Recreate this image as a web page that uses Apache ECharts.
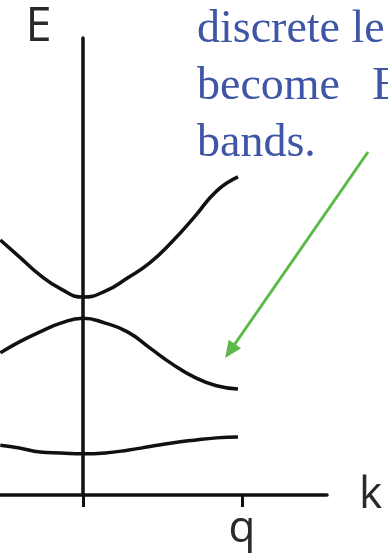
<!DOCTYPE html>
<html>
<head>
<meta charset="utf-8">
<script src="https://cdn.jsdelivr.net/npm/echarts@6/dist/echarts.min.js"></script>
<style>
  html, body { margin: 0; padding: 0; background: #fff; }
  #chart { width: 388px; height: 554px; }
</style>
</head>
<body>
<div id="chart"></div>
<script>
// k in units of q (zone edge), E in arbitrary units
const kValues = [-0.52, -0.4, -0.27, -0.14, 0, 0.14, 0.28, 0.42, 0.56, 0.7, 0.84, 0.975]
const upperBand = [5.58, 5.21, 4.81, 4.51, 4.33, 4.46, 4.75, 5.08, 5.54, 6.08, 6.65, 6.96]
const middleBand = [3.11, 3.35, 3.57, 3.76, 3.87, 3.76, 3.57, 3.22, 2.87, 2.58, 2.39, 2.32]
const lowerBand = [1.09, 1.03, 0.94, 0.92, 0.90, 0.92, 0.98, 1.06, 1.14, 1.20, 1.25, 1.27]
const xTicks = [0, 1]
const xTickLabels = ['q']
const noteLines = ['discrete le', 'become  \u2009E', 'bands.']

const toPairs = (ys) => kValues.map((k, i) => [k, ys[i]])

const chart = echarts.init(document.getElementById('chart'), null, { renderer: 'canvas' })

const bandStyle = { color: '#111', width: 3.5 }

const option = {
  animation: false,
  backgroundColor: '#fff',
  grid: {
    left: 0,
    right: 61,
    top: 38,
    bottom: 59,
    containLabel: false,
    outerBoundsMode: 'none',
  },
  xAxis: {
    type: 'value',
    min: -0.522,
    max: 1.535,
    name: 'k',
    nameLocation: 'end',
    nameGap: 32,
    nameTextStyle: {
      fontFamily: 'Open Sans',
      fontSize: 44,
      color: '#2a2a2a',
      padding: [17, 0, 0, 0],
    },
    axisLine: { onZero: true, lineStyle: { color: '#111', width: 3.5 } },
    axisTick: { show: true, customValues: xTicks, length: 12, lineStyle: { color: '#111', width: 3 } },
    axisLabel: {
      show: true,
      customValues: [1],
      formatter: () => xTickLabels[0],
      margin: 12,
      fontFamily: 'Open Sans',
      fontSize: 44,
      color: '#2a2a2a',
    },
    splitLine: { show: false },
  },
  yAxis: {
    type: 'value',
    min: 0,
    max: 10,
    name: 'E',
    nameLocation: 'end',
    nameGap: 10,
    nameTextStyle: {
      fontFamily: 'Open Sans',
      fontSize: 47,
      color: '#2a2a2a',
      align: 'center',
      verticalAlign: 'middle',
      padding: [0, 89, 0, 0],
    },
    axisLine: { show: true, onZero: true, lineStyle: { color: '#111', width: 3.5 } },
    axisTick: { show: false },
    axisLabel: { show: false },
    splitLine: { show: false },
  },
  series: [
    {
      name: 'upper',
      type: 'line',
      smooth: true,
      showSymbol: false,
      clip: false,
      lineStyle: bandStyle,
      data: toPairs(upperBand),
    },
    {
      name: 'middle',
      type: 'line',
      smooth: true,
      showSymbol: false,
      clip: false,
      lineStyle: bandStyle,
      data: toPairs(middleBand),
      // 绿色箭头指向能带
      markLine: {
        silent: true,
        symbol: ['none', 'triangle'],
        symbolSize: [15, 17],
        label: { show: false },
        lineStyle: { color: '#5bb947', width: 3, type: 'solid' },
        data: [[{ x: 368, y: 152 }, { x: 230, y: 351 }]],
      },
    },
    {
      name: 'lower',
      type: 'line',
      smooth: true,
      showSymbol: false,
      clip: false,
      lineStyle: bandStyle,
      data: toPairs(lowerBand),
    },
  ],
  graphic: noteLines.map((t, i) => ({
    type: 'text',
    x: 197,
    y: 30 + i * 57,
    silent: true,
    style: {
      text: t,
      fontSize: 46,
      fontFamily: 'Liberation Serif',
      fill: '#3f55a5',
      align: 'left',
      verticalAlign: 'middle',
    },
  })),
}

chart.setOption(option)
</script>
</body>
</html>
